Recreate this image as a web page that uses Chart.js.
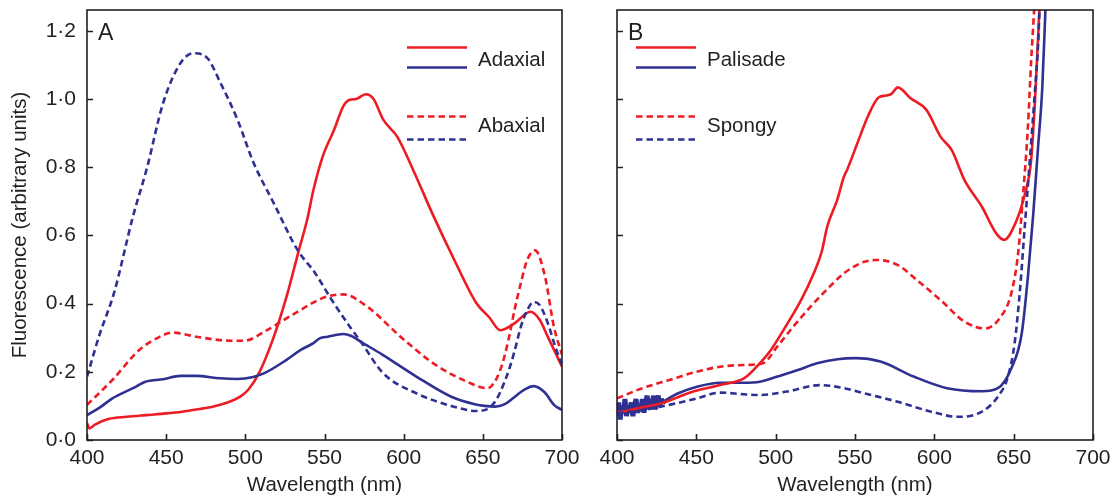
<!DOCTYPE html>
<html><head><meta charset="utf-8">
<script src="https://cdn.jsdelivr.net/npm/chart.js@4/dist/chart.umd.min.js"></script>
<style>
html,body{margin:0;padding:0;background:#fff;width:1115px;height:499px;overflow:hidden}
#ca{position:absolute;left:0;top:0}
#cb{position:absolute;left:590px;top:0}
</style></head><body>
<canvas id="ca" width="590" height="499"></canvas>
<canvas id="cb" width="525" height="499"></canvas>
<script>
// ---------- tick labels / axis ----------
const X_TICKS = [400, 450, 500, 550, 600, 650, 700];
const Y_TICKS = [0, 0.2, 0.4, 0.6, 0.8, 1.0, 1.2];
const Y_MAX = 1.261;
const X_TITLE = 'Wavelength (nm)';
const Y_TITLE = 'Fluorescence (arbitrary units)';
const LEGEND_A = ['Adaxial', 'Abaxial'];
const LEGEND_B = ['Palisade', 'Spongy'];

// ---------- Panel A ----------
const A_ADAX_RED_NM  = [400, 401.5, 405, 414, 425, 437, 450, 460, 470, 480, 490, 497, 502, 509, 517, 526, 534, 539, 543, 549, 556, 562, 566, 570, 576, 581, 587, 596, 606, 619, 632, 646, 654, 661, 670, 680, 686, 691, 700];
const A_ADAX_RED_VAL = [0.05, 0.034, 0.045, 0.062, 0.068, 0.073, 0.078, 0.083, 0.09, 0.098, 0.112, 0.128, 0.148, 0.2, 0.29, 0.42, 0.56, 0.645, 0.733, 0.833, 0.909, 0.98, 0.998, 1.0, 1.014, 1.0, 0.94, 0.889, 0.792, 0.655, 0.528, 0.401, 0.36, 0.322, 0.342, 0.376, 0.352, 0.303, 0.215];

const A_ADAX_BLUE_NM  = [400, 408, 416, 429, 437, 448, 459, 469, 484, 495, 505, 512, 526, 535, 543, 547, 552, 562, 567, 573, 587, 608, 630, 645, 651, 658, 665, 671, 676, 682, 689, 695, 700];
const A_ADAX_BLUE_VAL = [0.073, 0.095, 0.122, 0.152, 0.171, 0.178, 0.188, 0.188, 0.181, 0.179, 0.185, 0.196, 0.235, 0.264, 0.284, 0.298, 0.303, 0.311, 0.305, 0.288, 0.249, 0.186, 0.127, 0.105, 0.1, 0.098, 0.108, 0.13, 0.147, 0.158, 0.14, 0.103, 0.088];

const A_ABAX_RED_NM  = [400, 416, 433, 444, 454, 469, 484, 499, 514, 530, 551, 562, 577, 598, 619, 640, 653, 661, 666, 670, 674, 678, 683, 689, 695, 700];
const A_ABAX_RED_VAL = [0.103, 0.176, 0.264, 0.298, 0.315, 0.303, 0.293, 0.291, 0.323, 0.368, 0.42, 0.427, 0.391, 0.303, 0.224, 0.171, 0.152, 0.205, 0.29, 0.381, 0.46, 0.528, 0.556, 0.485, 0.33, 0.25];

const A_ABAX_BLUE_NM  = [400, 408, 417, 429, 438, 448, 459, 467, 476, 484, 495, 505, 518, 533, 544, 554, 566, 573, 587, 608, 630, 646, 657, 665, 670, 674, 678, 682, 686, 691, 696, 700];
const A_ABAX_BLUE_VAL = [0.186, 0.31, 0.43, 0.655, 0.80, 0.987, 1.105, 1.134, 1.12, 1.05, 0.94, 0.815, 0.694, 0.557, 0.49, 0.415, 0.332, 0.288, 0.196, 0.137, 0.10, 0.085, 0.108, 0.186, 0.26, 0.332, 0.38, 0.405, 0.395, 0.343, 0.27, 0.22];

// ---------- Panel B ----------
const B_PAL_RED_NM  = [400, 415, 428, 448, 465, 480, 488, 497, 505, 516, 524, 529, 532.5, 538.8, 543, 545, 551.5, 558, 565, 569.5, 573, 577, 585, 595, 604, 611, 619, 630, 639, 644, 651, 657, 661, 663.5, 665.5, 667.5];
const B_PAL_RED_VAL = [0.08, 0.095, 0.108, 0.142, 0.161, 0.181, 0.215, 0.264, 0.323, 0.41, 0.489, 0.552, 0.626, 0.704, 0.772, 0.792, 0.87, 0.948, 1.005, 1.01, 1.015, 1.034, 1.002, 0.968, 0.889, 0.85, 0.762, 0.684, 0.606, 0.587, 0.635, 0.72, 0.82, 1.0, 1.19, 1.4];

const B_PAL_BLUE_NM  = [430, 438.6, 451, 465, 480, 490, 501, 514, 526, 539, 550, 566, 587, 608, 630, 640, 648.5, 655, 659, 662.3, 665.4, 668, 670, 672];
const B_PAL_BLUE_VAL = [0.115, 0.137, 0.157, 0.168, 0.168, 0.171, 0.186, 0.205, 0.225, 0.237, 0.24, 0.23, 0.186, 0.152, 0.143, 0.152, 0.21, 0.31, 0.48, 0.66, 0.86, 1.03, 1.26, 1.5];

const B_PAL_NOISE_NM  = [400, 401, 402, 403, 404, 405, 406, 407, 408, 409, 410, 411, 412, 413, 414, 415, 416, 417, 418, 419, 420, 421, 422, 423, 424, 425, 426, 427, 428, 429, 430];
const B_PAL_NOISE_VAL = [0.07, 0.11, 0.06, 0.10, 0.08, 0.12, 0.07, 0.10, 0.09, 0.11, 0.07, 0.10, 0.12, 0.08, 0.10, 0.09, 0.12, 0.08, 0.11, 0.13, 0.09, 0.12, 0.10, 0.13, 0.09, 0.11, 0.13, 0.10, 0.12, 0.11, 0.115];

const B_SPO_RED_NM  = [400, 416, 433, 450, 465, 480, 492, 501, 511, 522, 532, 543, 550, 556, 564, 577, 589, 604, 619, 632, 642, 648.5, 652.8, 656, 659, 661, 663, 665];
const B_SPO_RED_VAL = [0.122, 0.152, 0.176, 0.2, 0.215, 0.22, 0.225, 0.274, 0.332, 0.391, 0.44, 0.489, 0.51, 0.523, 0.528, 0.513, 0.469, 0.41, 0.347, 0.327, 0.362, 0.43, 0.547, 0.723, 0.92, 1.11, 1.27, 1.45];

const B_SPO_BLUE_NM  = [400, 416.5, 437.6, 450.3, 465, 480, 490, 507, 528, 543, 555.7, 577, 598, 615, 630, 640, 646.4, 650.6, 653.8, 657, 660.2, 663.3, 665.4, 667];
const B_SPO_BLUE_VAL = [0.078, 0.088, 0.108, 0.122, 0.139, 0.134, 0.132, 0.142, 0.161, 0.152, 0.137, 0.112, 0.083, 0.068, 0.083, 0.127, 0.186, 0.284, 0.43, 0.626, 0.821, 1.016, 1.16, 1.35];

// ---------- styling ----------
const FONT = '"Liberation Sans", Arial, Helvetica, sans-serif';
const RED = '#ed1c24', BLUE = '#2e3192', INK = '#231f20';
const DASH = [6.5, 4];

function pts(nm, val) { return nm.map((x, i) => ({ x: x, y: val[i] })); }
function line(nm, val, color, dashed, extra) {
  return Object.assign({
    data: pts(nm, val), borderColor: color, backgroundColor: color,
    borderWidth: 2.6, borderDash: dashed ? DASH : [], pointRadius: 0,
    fill: false, cubicInterpolationMode: 'monotone', borderCapStyle: 'butt'
  }, extra || {});
}

const framePlugin = {
  id: 'frame',
  afterDatasetsDraw(chart, args, opts) {
    const { ctx, chartArea: { left, right, top, bottom }, scales: { x, y } } = chart;
    ctx.save();
    ctx.strokeStyle = INK; ctx.lineWidth = 1.6; ctx.setLineDash([]);
    ctx.strokeRect(left, top, right - left, bottom - top);
    ctx.beginPath();
    X_TICKS.forEach(v => { const p = Math.round(x.getPixelForValue(v)) + 0.5; ctx.moveTo(p, bottom); ctx.lineTo(p, bottom - 6); });
    Y_TICKS.forEach(v => { const p = Math.round(y.getPixelForValue(v)) + 0.5; ctx.moveTo(left, p); ctx.lineTo(left + 6, p); });
    ctx.stroke();
    // panel letter
    ctx.fillStyle = INK;
    ctx.font = '23px ' + FONT;
    ctx.textBaseline = 'alphabetic'; ctx.textAlign = 'left';
    ctx.fillText(opts.letter, left + 11, 39.5);
    // legend
    const lx0 = left + opts.lx, lx1 = lx0 + 60;
    const groups = [
      { y1: 47.5, y2: 67.5, ty: 60.5, dash: [] },
      { y1: 116.5, y2: 139.5, ty: 126.5, dash: DASH }
    ];
    ctx.lineWidth = 2.6;
    groups.forEach((g, i) => {
      ctx.setLineDash(g.dash);
      ctx.strokeStyle = RED; ctx.beginPath(); ctx.moveTo(lx0, g.y1); ctx.lineTo(lx1, g.y1); ctx.stroke();
      ctx.strokeStyle = BLUE; ctx.beginPath(); ctx.moveTo(lx0, g.y2); ctx.lineTo(lx1, g.y2); ctx.stroke();
      ctx.setLineDash([]);
      ctx.font = '20.5px ' + FONT; ctx.textBaseline = 'middle';
      ctx.fillText(opts.labels[i], lx1 + 11, g.ty);
    });
    ctx.restore();
  }
};

function scales(showY) {
  return {
    x: {
      type: 'linear', min: 400, max: 700,
      afterBuildTicks: s => { s.ticks = X_TICKS.map(v => ({ value: v })); },
      afterFit: s => { s.height = 59; s.paddingLeft = 0; s.paddingRight = 0; },
      grid: { display: false, drawTicks: false }, border: { display: false },
      ticks: { color: INK, font: { family: FONT, size: 21 }, padding: 6, maxRotation: 0, autoSkip: false },
      title: { display: true, text: X_TITLE, color: INK, font: { family: FONT, size: 20.5 }, padding: { top: 0, bottom: 1 } }
    },
    y: {
      type: 'linear', min: 0, max: Y_MAX,
      afterBuildTicks: s => { s.ticks = Y_TICKS.map(v => ({ value: v })); },
      afterFit: s => { s.width = showY ? 87 : 27; s.paddingTop = 0; s.paddingBottom = 0; },
      grid: { display: false, drawTicks: false }, border: { display: false },
      ticks: { display: showY, color: INK, font: { family: FONT, size: 21 }, padding: 11,
               callback: v => Number(v).toFixed(1).replace('.', '\u00B7') },
      title: { display: showY, text: Y_TITLE, color: INK, font: { family: FONT, size: 20.5 }, padding: { top: 8, bottom: 0 } }
    }
  };
}

function baseOptions(showY, padRight, letter, labels, lx) {
  return {
    responsive: false, animation: false, devicePixelRatio: 1,
    layout: { padding: { top: 10, right: padRight, bottom: 0, left: 0 } },
    plugins: { legend: { display: false }, tooltip: { enabled: false },
               frame: { letter: letter, labels: labels, lx: lx } },
    scales: scales(showY)
  };
}

new Chart(document.getElementById('ca'), {
  type: 'line',
  data: { datasets: [
    line(A_ABAX_BLUE_NM, A_ABAX_BLUE_VAL, BLUE, true),
    line(A_ABAX_RED_NM, A_ABAX_RED_VAL, RED, true),
    line(A_ADAX_BLUE_NM, A_ADAX_BLUE_VAL, BLUE, false),
    line(A_ADAX_RED_NM, A_ADAX_RED_VAL, RED, false)
  ] },
  options: baseOptions(true, 28, 'A', LEGEND_A, 320),
  plugins: [framePlugin]
});

new Chart(document.getElementById('cb'), {
  type: 'line',
  data: { datasets: [
    line(B_SPO_BLUE_NM, B_SPO_BLUE_VAL, BLUE, true),
    line(B_SPO_RED_NM, B_SPO_RED_VAL, RED, true),
    line(B_PAL_RED_NM, B_PAL_RED_VAL, RED, false),
    line(B_PAL_BLUE_NM, B_PAL_BLUE_VAL, BLUE, false),
    line(B_PAL_NOISE_NM, B_PAL_NOISE_VAL, BLUE, false, { borderWidth: 5, cubicInterpolationMode: 'default', tension: 0, borderJoinStyle: 'bevel' })
  ] },
  options: baseOptions(false, 22, 'B', LEGEND_B, 19),
  plugins: [framePlugin]
});
</script>
</body></html>
